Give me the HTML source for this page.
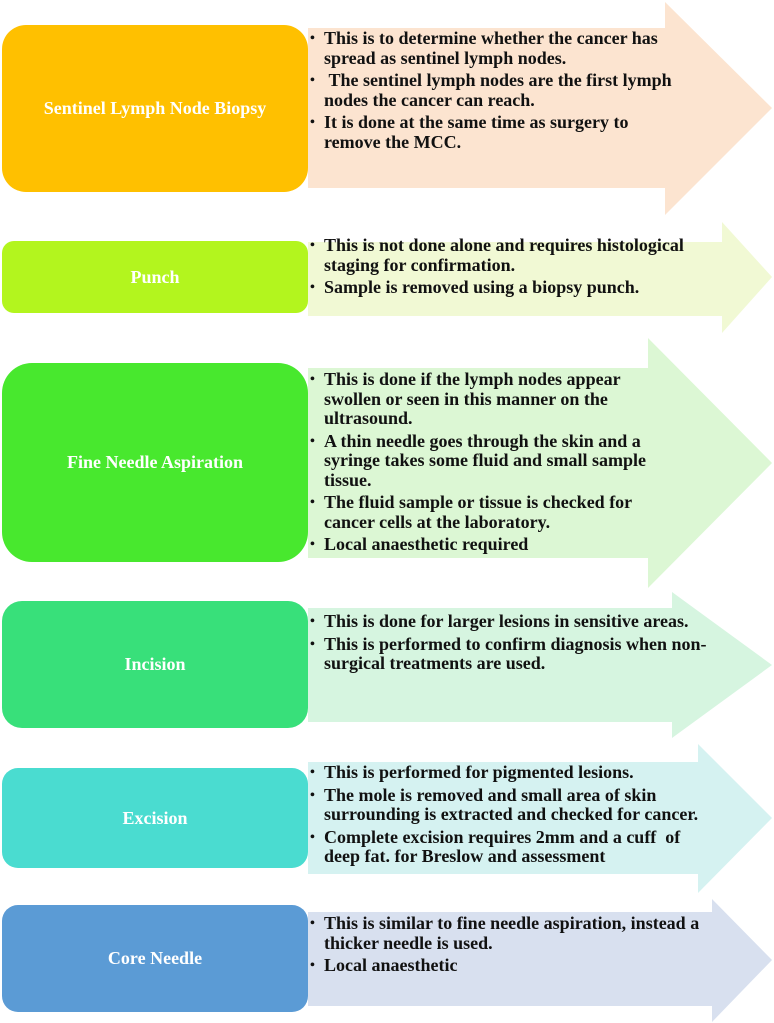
<!DOCTYPE html>
<html><head><meta charset="utf-8"><style>
html,body{margin:0;padding:0;background:#fff;width:774px;height:1023px;overflow:hidden;position:relative}
svg{position:absolute;left:0;top:0}
.lbl{position:absolute;left:2px;width:306px;display:flex;align-items:center;justify-content:center;color:#fff;font:bold 18px "Liberation Serif",serif;text-align:center}
.txt{position:absolute;left:310px;font:bold 18px/19.5px "Liberation Serif",serif;color:#111;white-space:nowrap}
.txt div{position:relative;padding-left:14px;margin-bottom:3px}
.txt div:before{content:"•";position:absolute;left:0;top:0;font-size:14px}
</style></head><body>
<svg width="774" height="1023">
<polygon points="308,28 665,28 665,2 772,108 665,215 665,188 308,188" fill="#FCE4D0"/>
<rect x="2" y="25" width="306" height="167" rx="24" fill="#FFC000"/>
<polygon points="308,242 722,242 722,222 772,277 722,333 722,316 308,316" fill="#F1F9D4"/>
<rect x="2" y="241" width="306" height="72" rx="12" fill="#B3F51E"/>
<polygon points="308,368 648,368 648,338 772,463 648,588 648,558 308,558" fill="#DCF7D4"/>
<rect x="2" y="363" width="306" height="199" rx="30" fill="#48E82E"/>
<polygon points="308,608 672,608 672,592 772,665 672,738 672,722 308,722" fill="#D6F5E0"/>
<rect x="2" y="601" width="306" height="127" rx="20" fill="#38E07A"/>
<polygon points="308,762 698,762 698,744 772,818 698,893 698,874 308,874" fill="#D5F2F1"/>
<rect x="2" y="768" width="306" height="100" rx="16" fill="#4ADCD0"/>
<polygon points="308,912 712,912 712,899 772,960 712,1022 712,1006 308,1006" fill="#D8E0EF"/>
<rect x="2" y="905" width="306" height="107" rx="16" fill="#5B9BD5"/>
</svg>
<div class="lbl" style="top:25px;height:167px">Sentinel Lymph Node Biopsy</div>
<div class="lbl" style="top:241px;height:72px">Punch</div>
<div class="lbl" style="top:363px;height:199px">Fine Needle Aspiration</div>
<div class="lbl" style="top:601px;height:127px">Incision</div>
<div class="lbl" style="top:768px;height:100px">Excision</div>
<div class="lbl" style="top:905px;height:107px">Core Needle</div>

<div class="txt" style="top:29px">
<div>This is to determine whether the cancer has<br>spread as sentinel lymph nodes.</div>
<div>&nbsp;The sentinel lymph nodes are the first lymph<br>nodes the cancer can reach.</div>
<div>It is done at the same time as surgery to<br>remove the MCC.</div>
</div>
<div class="txt" style="top:236px">
<div>This is not done alone and requires histological<br>staging for confirmation.</div>
<div>Sample is removed using a biopsy punch.</div>
</div>
<div class="txt" style="top:370px">
<div>This is done if the lymph nodes appear<br>swollen or seen in this manner on the<br>ultrasound.</div>
<div>A thin needle goes through the skin and a<br>syringe takes some fluid and small sample<br>tissue.</div>
<div>The fluid sample or tissue is checked for<br>cancer cells at the laboratory.</div>
<div>Local anaesthetic required</div>
</div>
<div class="txt" style="top:612px">
<div>This is done for larger lesions in sensitive areas.</div>
<div>This is performed to confirm diagnosis when non-<br>surgical treatments are used.</div>
</div>
<div class="txt" style="top:763px">
<div>This is performed for pigmented lesions.</div>
<div>The mole is removed and small area of skin<br>surrounding is extracted and checked for cancer.</div>
<div>Complete excision requires 2mm and a cuff&nbsp; of<br>deep fat. for Breslow and assessment</div>
</div>
<div class="txt" style="top:914px">
<div>This is similar to fine needle aspiration, instead a<br>thicker needle is used.</div>
<div>Local anaesthetic</div>
</div>
</body></html>
